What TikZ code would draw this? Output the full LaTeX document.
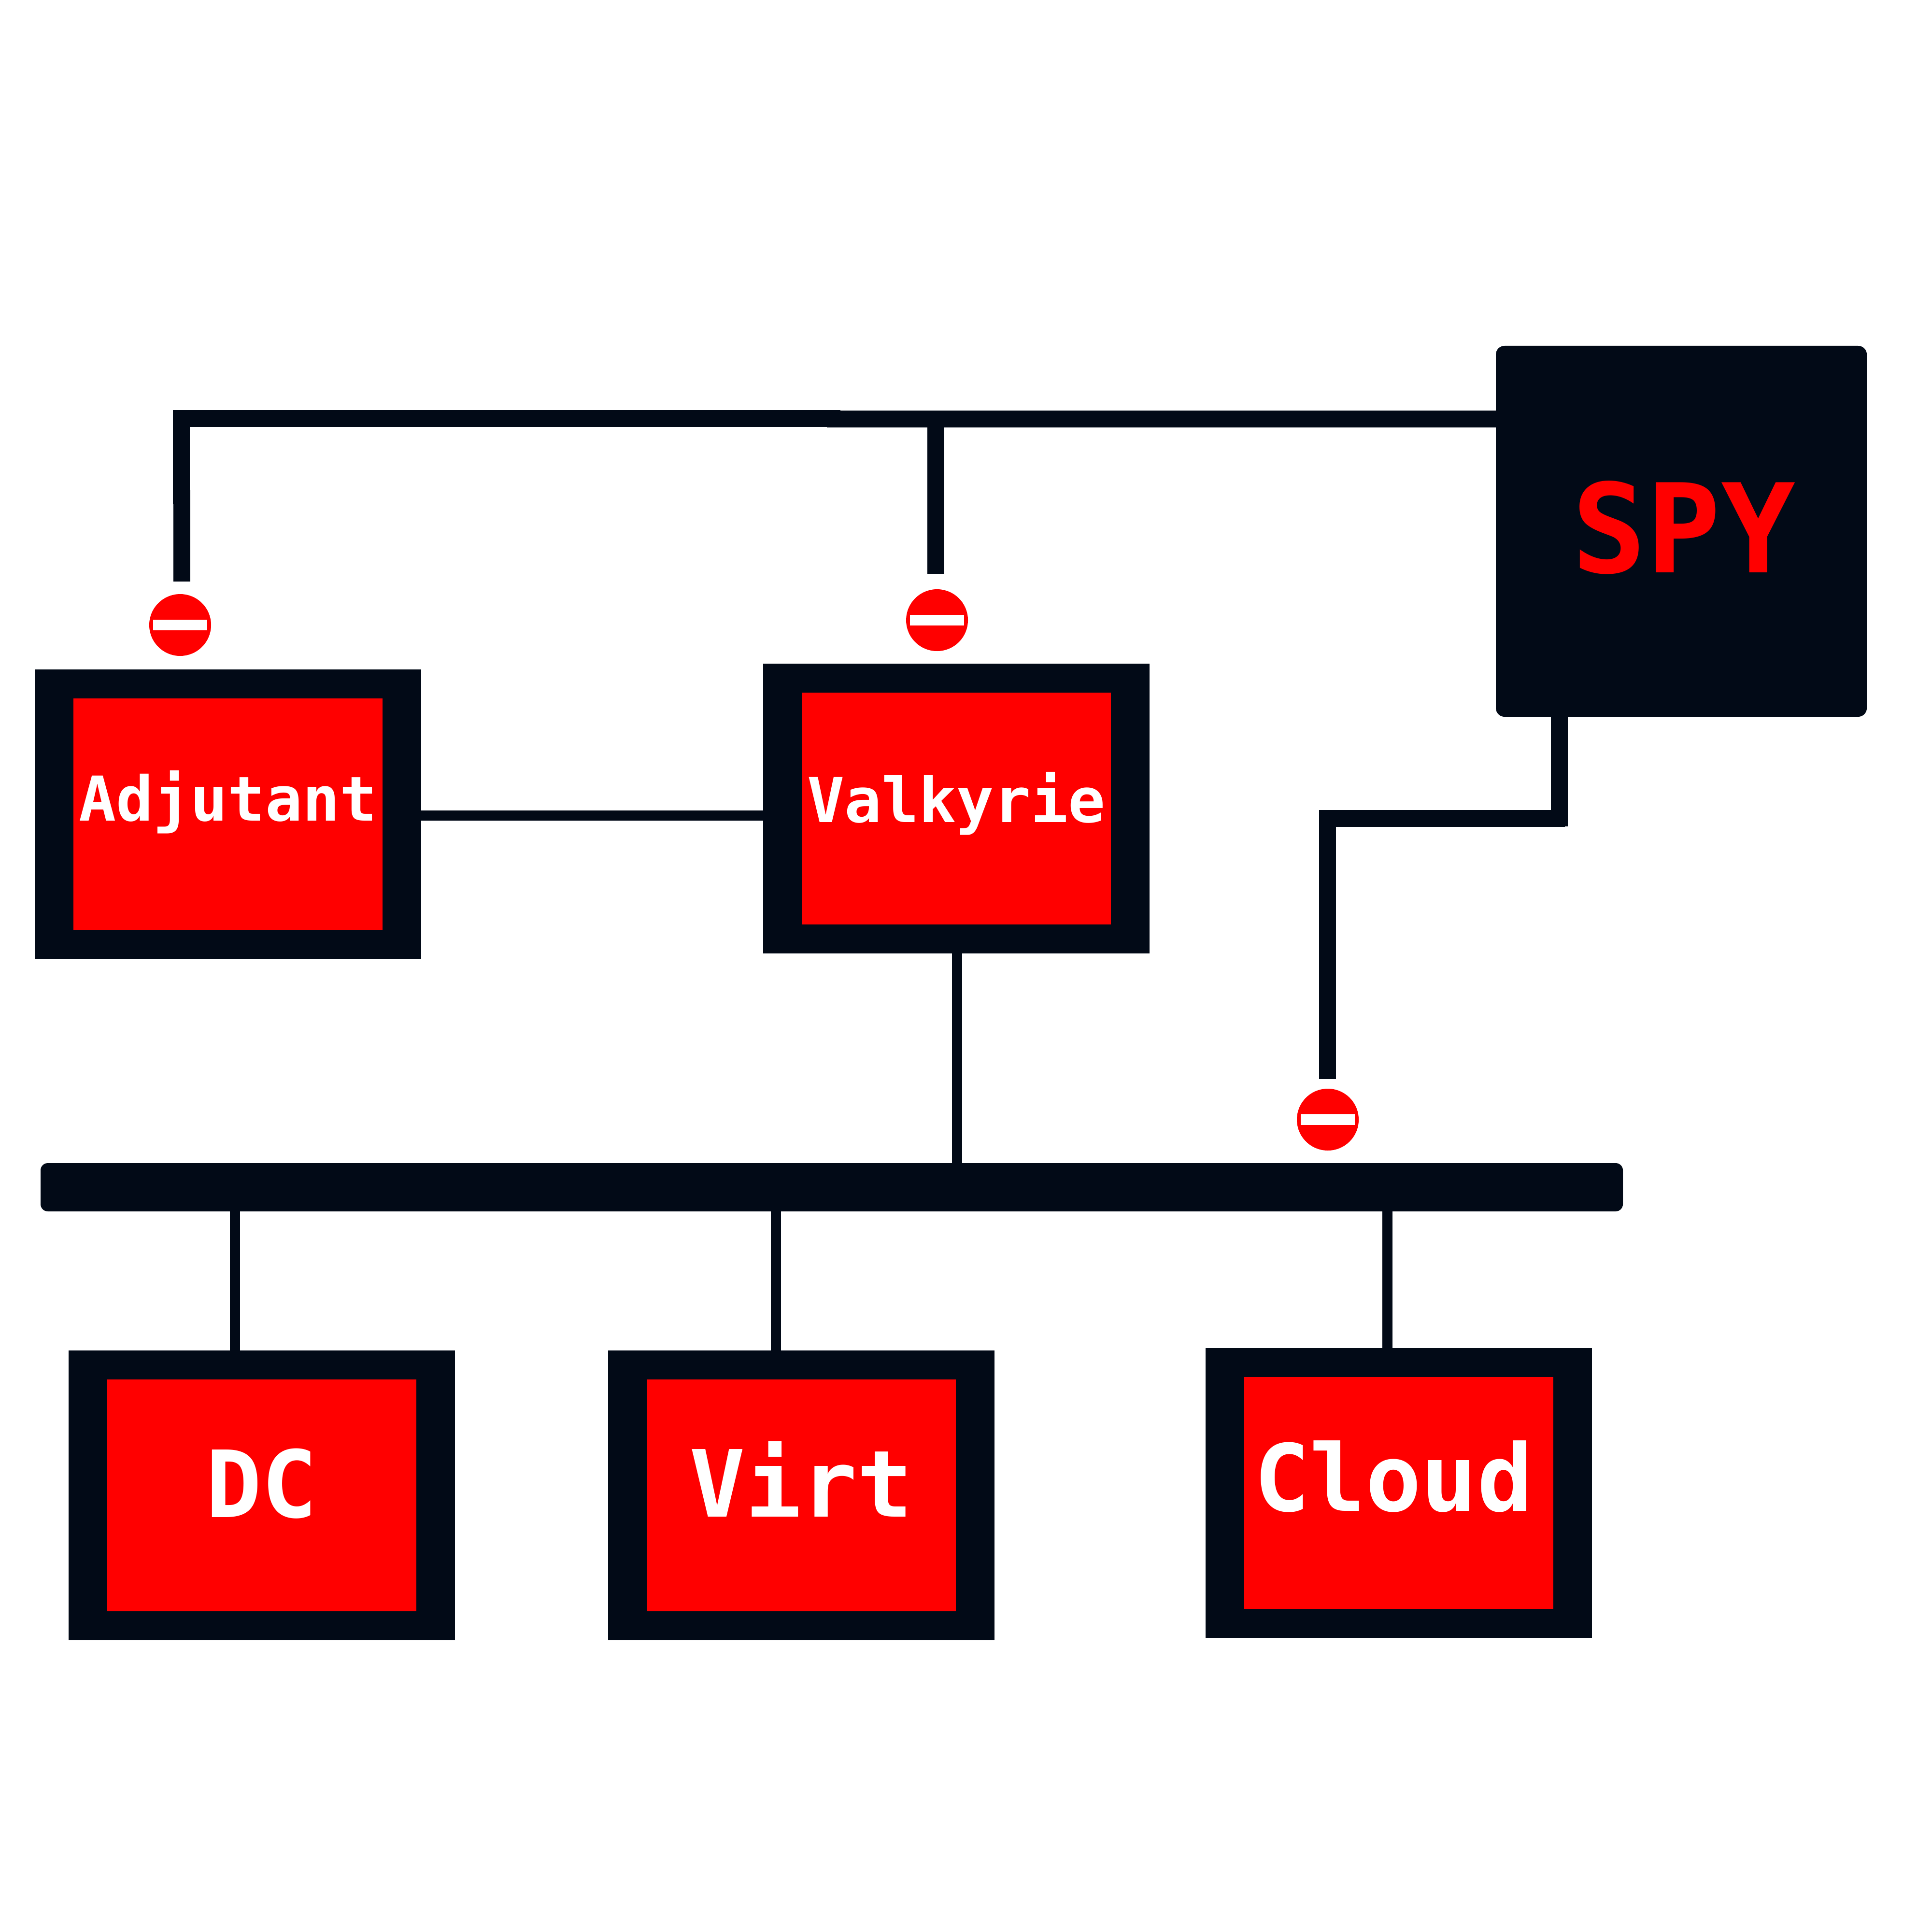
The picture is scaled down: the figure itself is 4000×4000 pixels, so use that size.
\documentclass[tikz,border=0pt]{standalone}
\usepackage{fontspec}
\setmonofont{DejaVu Sans Mono}
\definecolor{ink}{HTML}{020A17}
\definecolor{signred}{HTML}{FF0000}
\tikzset{
  outerbox/.style={rectangle,fill=ink,inner sep=0pt,outer sep=0pt,minimum width=200pt,minimum height=150pt},
  innerbox/.style={rectangle,fill=signred,inner sep=0pt,outer sep=0pt,minimum width=160pt,minimum height=120pt},
  spybox/.style={rectangle,fill=ink,rounded corners=4.5pt,inner sep=0pt,outer sep=0pt,minimum width=192pt,minimum height=192pt},
  busbar/.style={rectangle,fill=ink,rounded corners=3.75pt,inner sep=0pt,outer sep=0pt,minimum width=819pt,minimum height=25pt},
  label/.style={anchor=base,inner sep=0pt,outer sep=0pt,text=white,font=\ttfamily\bfseries\fontsize{32}{38}\selectfont},
  biglabel/.style={label,font=\ttfamily\bfseries\fontsize{48}{58}\selectfont},
  spylabel/.style={label,text=signred,font=\ttfamily\bfseries\fontsize{64}{77}\selectfont},
  stopdisc/.style={circle,fill=signred,inner sep=0pt,outer sep=0pt,minimum size=32pt},
  stopbar/.style={rectangle,fill=white,inner sep=0pt,outer sep=0pt,minimum width=28pt,minimum height=5.5pt},
  thinlink/.style={draw=ink,line width=5.25pt,line cap=butt},
  heavylink/.style={draw=ink,line width=8.75pt,line cap=butt,line join=miter}
}
\begin{document}
\begin{tikzpicture}[x=0.25pt,y=-0.25pt]
\path[fill=white,use as bounding box] (0,0) rectangle (4000,4000);

% boxes
\node[spybox] (spy) at (3481,1100) {};
\node[busbar] (bus) at (1722,2458) {};
\node[outerbox] (adjbox) at (472,1686) {};
\node[innerbox] (adjfill) at (472,1686) {};
\node[outerbox] (valbox) at (1980,1674) {};
\node[innerbox] (valfill) at (1980,1674) {};
\node[outerbox] (dcbox) at (542,3096) {};
\node[innerbox] (dcfill) at (542,3096) {};
\node[outerbox] (virtbox) at (1659,3096) {};
\node[innerbox] (virtfill) at (1659,3096) {};
\node[outerbox] (cloudbox) at (2896,3091) {};
\node[innerbox] (cloudfill) at (2896,3091) {};

% labels
\node[label] (adjtext) at (472,1699) {Adjutant};
\node[label] (valtext) at (1980,1702) {Valkyrie};
\node[biglabel] (dctext) at (542,3141) {DC};
\node[biglabel] (virttext) at (1659,3140) {Virt};
\node[biglabel] (cloudtext) at (2885,3128) {Cloud};
\node[spylabel] (spytext) at (3486,1185) {SPY};

% no-entry signs
\node[stopdisc] (stopa) at (373,1294) {};
\node[stopbar] (stopabar) at (373,1294) {};
\node[stopdisc] (stopb) at (1940,1284) {};
\node[stopbar] (stopbbar) at (1940,1284) {};
\node[stopdisc] (stopc) at (2749,2318) {};
\node[stopbar] (stopcbar) at (2749,2318) {};

% connector helper points
\coordinate (linky) at (0,1688.5);
\coordinate (valx) at (1981.5,0);
\coordinate (dcx) at (486.5,0);
\coordinate (virtx) at (1606.5,0);
\coordinate (cloudx) at (2872.5,0);
\coordinate (topjoin) at (1740,866.5);
\coordinate (topturn) at (375.5,866.5);
\coordinate (leftend) at (375.5,1043);
\coordinate (leftstart) at (376.5,1014);
\coordinate (leftfree) at (376.5,1204);
\coordinate (topstart) at (1712,867.5);
\coordinate (midtee) at (1937.5,867.5);
\coordinate (midfree) at (1937.5,1188);
\coordinate (spydown) at (3228.5,1711);
\coordinate (lowstart) at (3240,1694.5);
\coordinate (lowturn) at (2748.5,1694.5);
\coordinate (lowfree) at (2748.5,2234);

% thin connectors
\draw[thinlink] (linky -| adjbox.east) -- (linky -| valbox.west);
\draw[thinlink] (valx |- valbox.south) -- (valx |- bus.north);
\draw[thinlink] (dcx |- bus.south) -- (dcx |- dcbox.north);
\draw[thinlink] (virtx |- bus.south) -- (virtx |- virtbox.north);
\draw[thinlink] (cloudx |- bus.south) -- (cloudx |- cloudbox.north);

% heavy connectors
\draw[heavylink] (leftend) -- (topturn) -- (topjoin);
\draw[heavylink] (leftstart) -- (leftfree);
\draw[heavylink] (topstart) -- (topstart -| spy.west);
\draw[heavylink] (midtee) -- (midfree);
\draw[heavylink] (spydown |- spy.south) -- (spydown);
\draw[heavylink] (lowstart) -- (lowturn) -- (lowfree);
\end{tikzpicture}
\end{document}
